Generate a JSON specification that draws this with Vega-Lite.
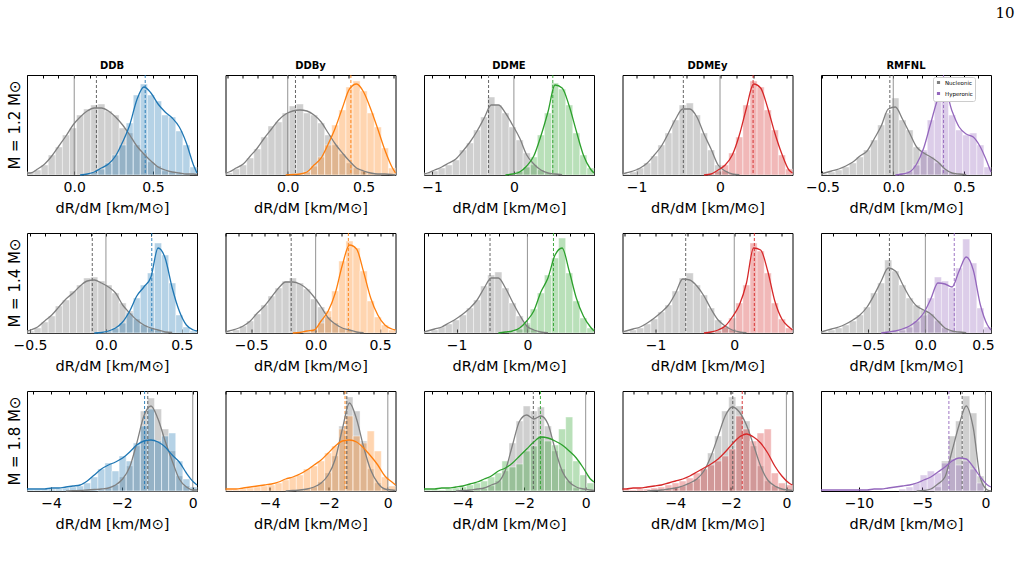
{
"$schema":"https://vega.github.io/schema/vega-lite/v6.json",
"padding":{"left":7,"top":6,"right":5,"bottom":5},
"background":"white",
"title":{"text":"10","anchor":"end","font":"DejaVu Serif","fontSize":15,"fontWeight":"normal","color":"black","offset":40,"dx":20},
"data":{"values":[
{"c":"DDB","r":"1.2","x":-0.3,"kn":2},
{"c":"DDB","r":"1.2","x":-0.2775,"n":3,"kn":2},
{"c":"DDB","r":"1.2","x":-0.2325,"n":5,"kn":6},
{"c":"DDB","r":"1.2","x":-0.1875,"n":10,"kn":11},
{"c":"DDB","r":"1.2","x":-0.1425,"n":20,"kn":19},
{"c":"DDB","r":"1.2","x":-0.0975,"n":28,"kn":29},
{"c":"DDB","r":"1.2","x":-0.0525,"n":40,"kn":39},
{"c":"DDB","r":"1.2","x":-0.0075,"n":47,"kn":50},
{"c":"DDB","r":"1.2","x":0.0375,"n":60,"kn":58,"kh":0},
{"c":"DDB","r":"1.2","x":0.0825,"n":66,"h":1,"kn":64,"kh":1},
{"c":"DDB","r":"1.2","x":0.1275,"n":70,"h":3,"kn":67,"kh":3},
{"c":"DDB","r":"1.2","x":0.1725,"n":71,"h":6,"kn":67,"kh":7},
{"c":"DDB","r":"1.2","x":0.2175,"n":64,"h":12,"kn":64,"kh":11},
{"c":"DDB","r":"1.2","x":0.2625,"n":60,"h":20,"kn":58,"kh":19},
{"c":"DDB","r":"1.2","x":0.3075,"n":47,"h":30,"kn":50,"kh":33},
{"c":"DDB","r":"1.2","x":0.3525,"n":42,"h":52,"kn":40,"kh":50},
{"c":"DDB","r":"1.2","x":0.3975,"n":30,"h":80,"kn":29,"kh":75},
{"c":"DDB","r":"1.2","x":0.4425,"n":22,"h":91,"kn":21,"kh":88},
{"c":"DDB","r":"1.2","x":0.4875,"n":13,"h":80,"kn":14,"kh":82},
{"c":"DDB","r":"1.2","x":0.5325,"n":9,"h":74,"kn":8,"kh":71},
{"c":"DDB","r":"1.2","x":0.5775,"n":4,"h":60,"kn":5,"kh":63},
{"c":"DDB","r":"1.2","x":0.6225,"n":3,"h":58,"kn":3,"kh":57},
{"c":"DDB","r":"1.2","x":0.6675,"n":2,"h":44,"kn":2,"kh":48},
{"c":"DDB","r":"1.2","x":0.7125,"n":1,"h":30,"kn":1,"kh":32},
{"c":"DDB","r":"1.2","x":0.7575,"h":8,"kn":1,"kh":10},
{"c":"DDB","r":"1.2","x":0.78,"kn":0.5,"kh":2},
{"c":"DDB","r":"1.2","mn":0.141,"mh":0.451},

{"c":"DDBy","r":"1.2","x":-0.41,"kn":2},
{"c":"DDBy","r":"1.2","x":-0.3867,"n":2,"kn":3},
{"c":"DDBy","r":"1.2","x":-0.34,"n":6,"kn":7},
{"c":"DDBy","r":"1.2","x":-0.2933,"n":10,"kn":11},
{"c":"DDBy","r":"1.2","x":-0.2467,"n":17,"kn":19},
{"c":"DDBy","r":"1.2","x":-0.2,"n":26,"kn":27},
{"c":"DDBy","r":"1.2","x":-0.1533,"n":38,"kn":37},
{"c":"DDBy","r":"1.2","x":-0.1067,"n":49,"kn":46},
{"c":"DDBy","r":"1.2","x":-0.06,"n":53,"kn":55},
{"c":"DDBy","r":"1.2","x":-0.0133,"n":62,"kn":61,"kh":0},
{"c":"DDBy","r":"1.2","x":0.0333,"n":69,"h":1,"kn":64,"kh":0.5},
{"c":"DDBy","r":"1.2","x":0.08,"n":71,"h":1,"kn":65,"kh":1},
{"c":"DDBy","r":"1.2","x":0.1267,"n":62,"h":3,"kn":64,"kh":3},
{"c":"DDBy","r":"1.2","x":0.1733,"n":60,"h":9,"kn":60,"kh":10},
{"c":"DDBy","r":"1.2","x":0.22,"n":52,"h":18,"kn":53,"kh":17},
{"c":"DDBy","r":"1.2","x":0.2667,"n":40,"h":30,"kn":42,"kh":31},
{"c":"DDBy","r":"1.2","x":0.3133,"n":30,"h":50,"kn":31,"kh":47},
{"c":"DDBy","r":"1.2","x":0.36,"n":21,"h":65,"kn":22,"kh":67},
{"c":"DDBy","r":"1.2","x":0.4067,"n":12,"h":88,"kn":14,"kh":86},
{"c":"DDBy","r":"1.2","x":0.4533,"n":7,"h":94,"kn":7,"kh":91},
{"c":"DDBy","r":"1.2","x":0.5,"n":4,"h":84,"kn":4,"kh":83},
{"c":"DDBy","r":"1.2","x":0.5467,"n":2,"h":62,"kn":2,"kh":66},
{"c":"DDBy","r":"1.2","x":0.5933,"n":1,"h":48,"kn":1,"kh":46},
{"c":"DDBy","r":"1.2","x":0.64,"h":27,"kn":1,"kh":25},
{"c":"DDBy","r":"1.2","x":0.6867,"h":7,"kn":0.5,"kh":8},
{"c":"DDBy","r":"1.2","x":0.71,"kn":0,"kh":2},
{"c":"DDBy","r":"1.2","mn":0.051,"mh":0.416},

{"c":"DDME","r":"1.2","x":-1.1,"kn":1},
{"c":"DDME","r":"1.2","x":-1.0567,"n":2,"kn":2},
{"c":"DDME","r":"1.2","x":-0.97,"n":4,"kn":5},
{"c":"DDME","r":"1.2","x":-0.8833,"n":7,"kn":8},
{"c":"DDME","r":"1.2","x":-0.7967,"n":10,"kn":12},
{"c":"DDME","r":"1.2","x":-0.71,"n":15,"kn":16},
{"c":"DDME","r":"1.2","x":-0.6233,"n":25,"kn":24},
{"c":"DDME","r":"1.2","x":-0.5367,"n":32,"kn":33},
{"c":"DDME","r":"1.2","x":-0.45,"n":45,"kn":44},
{"c":"DDME","r":"1.2","x":-0.3633,"n":58,"kn":57},
{"c":"DDME","r":"1.2","x":-0.2767,"n":78,"kn":70},
{"c":"DDME","r":"1.2","x":-0.19,"n":70,"kn":70},
{"c":"DDME","r":"1.2","x":-0.1033,"n":62,"kn":62,"kh":0},
{"c":"DDME","r":"1.2","x":-0.0167,"n":48,"h":1,"kn":50,"kh":1},
{"c":"DDME","r":"1.2","x":0.07,"n":35,"h":4,"kn":37,"kh":3},
{"c":"DDME","r":"1.2","x":0.1567,"n":22,"h":8,"kn":20,"kh":9},
{"c":"DDME","r":"1.2","x":0.2433,"n":10,"h":18,"kn":11,"kh":19},
{"c":"DDME","r":"1.2","x":0.33,"n":5,"h":40,"kn":5,"kh":39},
{"c":"DDME","r":"1.2","x":0.4167,"n":2,"h":62,"kn":2,"kh":63},
{"c":"DDME","r":"1.2","x":0.5033,"n":1,"h":92,"kn":1,"kh":90},
{"c":"DDME","r":"1.2","x":0.59,"h":86,"kn":0.3,"kh":87},
{"c":"DDME","r":"1.2","x":0.6767,"h":70,"kh":69},
{"c":"DDME","r":"1.2","x":0.7633,"h":42,"kh":44},
{"c":"DDME","r":"1.2","x":0.85,"h":20,"kh":20},
{"c":"DDME","r":"1.2","x":0.9367,"h":7,"kh":6},
{"c":"DDME","r":"1.2","x":0.98,"kh":2},
{"c":"DDME","r":"1.2","mn":-0.31,"mh":0.476},

{"c":"DDMEy","r":"1.2","x":-1.17,"kn":1},
{"c":"DDMEy","r":"1.2","x":-1.1275,"n":1,"kn":2},
{"c":"DDMEy","r":"1.2","x":-1.0425,"n":3,"kn":4},
{"c":"DDMEy","r":"1.2","x":-0.9575,"n":7,"kn":7},
{"c":"DDMEy","r":"1.2","x":-0.8725,"n":12,"kn":12},
{"c":"DDMEy","r":"1.2","x":-0.7875,"n":19,"kn":20},
{"c":"DDMEy","r":"1.2","x":-0.7025,"n":30,"kn":29},
{"c":"DDMEy","r":"1.2","x":-0.6175,"n":42,"kn":42},
{"c":"DDMEy","r":"1.2","x":-0.5325,"n":55,"kn":56},
{"c":"DDMEy","r":"1.2","x":-0.4475,"n":70,"kn":66},
{"c":"DDMEy","r":"1.2","x":-0.3625,"n":72,"kn":66},
{"c":"DDMEy","r":"1.2","x":-0.2775,"n":60,"kn":58},
{"c":"DDMEy","r":"1.2","x":-0.1925,"n":42,"kn":41,"kh":0},
{"c":"DDMEy","r":"1.2","x":-0.1075,"n":25,"h":1,"kn":26,"kh":1},
{"c":"DDMEy","r":"1.2","x":-0.0225,"n":10,"h":4,"kn":10,"kh":5},
{"c":"DDMEy","r":"1.2","x":0.0625,"n":4,"h":10,"kn":4,"kh":10},
{"c":"DDMEy","r":"1.2","x":0.1475,"n":1,"h":22,"kn":1,"kh":20},
{"c":"DDMEy","r":"1.2","x":0.2325,"h":38,"kn":0.3,"kh":40},
{"c":"DDMEy","r":"1.2","x":0.3175,"h":70,"kh":67},
{"c":"DDMEy","r":"1.2","x":0.4025,"h":94,"kh":91},
{"c":"DDMEy","r":"1.2","x":0.4875,"h":88,"kh":87},
{"c":"DDMEy","r":"1.2","x":0.5725,"h":65,"kh":67},
{"c":"DDMEy","r":"1.2","x":0.6575,"h":45,"kh":42},
{"c":"DDMEy","r":"1.2","x":0.7425,"h":20,"kh":21},
{"c":"DDMEy","r":"1.2","x":0.8275,"h":6,"kh":5},
{"c":"DDMEy","r":"1.2","x":0.87,"kh":2},
{"c":"DDMEy","r":"1.2","mn":-0.44,"mh":0.397},

{"c":"RMFNL","r":"1.2","x":-0.51,"kn":1},
{"c":"RMFNL","r":"1.2","x":-0.485,"n":1,"kn":2},
{"c":"RMFNL","r":"1.2","x":-0.435,"n":3,"kn":4},
{"c":"RMFNL","r":"1.2","x":-0.385,"n":5,"kn":6},
{"c":"RMFNL","r":"1.2","x":-0.335,"n":8,"kn":9},
{"c":"RMFNL","r":"1.2","x":-0.285,"n":12,"kn":13},
{"c":"RMFNL","r":"1.2","x":-0.235,"n":18,"kn":19},
{"c":"RMFNL","r":"1.2","x":-0.185,"n":25,"kn":24},
{"c":"RMFNL","r":"1.2","x":-0.135,"n":35,"kn":36},
{"c":"RMFNL","r":"1.2","x":-0.085,"n":50,"kn":49},
{"c":"RMFNL","r":"1.2","x":-0.035,"n":62,"kn":66},
{"c":"RMFNL","r":"1.2","x":0.015,"n":77,"kn":68,"kh":0},
{"c":"RMFNL","r":"1.2","x":0.065,"n":55,"h":2,"kn":56,"kh":1},
{"c":"RMFNL","r":"1.2","x":0.115,"n":45,"h":4,"kn":42,"kh":3},
{"c":"RMFNL","r":"1.2","x":0.165,"n":28,"h":10,"kn":28,"kh":11},
{"c":"RMFNL","r":"1.2","x":0.215,"n":23,"h":25,"kn":22,"kh":27},
{"c":"RMFNL","r":"1.2","x":0.265,"n":18,"h":55,"kn":18,"kh":52},
{"c":"RMFNL","r":"1.2","x":0.315,"n":12,"h":80,"kn":13,"kh":76},
{"c":"RMFNL","r":"1.2","x":0.365,"n":5,"h":88,"kn":6,"kh":85},
{"c":"RMFNL","r":"1.2","x":0.415,"n":2,"h":60,"kn":2,"kh":64},
{"c":"RMFNL","r":"1.2","x":0.465,"n":1,"h":45,"kn":1,"kh":48},
{"c":"RMFNL","r":"1.2","x":0.515,"h":40,"kn":0.3,"kh":41},
{"c":"RMFNL","r":"1.2","x":0.565,"h":42,"kh":38},
{"c":"RMFNL","r":"1.2","x":0.615,"h":30,"kh":28},
{"c":"RMFNL","r":"1.2","x":0.665,"h":8,"kh":12},
{"c":"RMFNL","r":"1.2","x":0.69,"kh":3},
{"c":"RMFNL","r":"1.2","mn":-0.024,"mh":0.355},

{"c":"DDB","r":"1.4","x":-0.52,"kn":2},
{"c":"DDB","r":"1.4","x":-0.4967,"n":2,"kn":3},
{"c":"DDB","r":"1.4","x":-0.45,"n":5,"kn":6},
{"c":"DDB","r":"1.4","x":-0.4033,"n":11,"kn":12},
{"c":"DDB","r":"1.4","x":-0.3567,"n":17,"kn":18},
{"c":"DDB","r":"1.4","x":-0.31,"n":27,"kn":26},
{"c":"DDB","r":"1.4","x":-0.2633,"n":33,"kn":34},
{"c":"DDB","r":"1.4","x":-0.2167,"n":42,"kn":40},
{"c":"DDB","r":"1.4","x":-0.17,"n":48,"kn":47},
{"c":"DDB","r":"1.4","x":-0.1233,"n":55,"kn":52},
{"c":"DDB","r":"1.4","x":-0.0767,"n":56,"kn":53,"kh":0},
{"c":"DDB","r":"1.4","x":-0.03,"n":52,"h":1,"kn":50,"kh":0.5},
{"c":"DDB","r":"1.4","x":0.0167,"n":48,"h":2,"kn":46,"kh":2},
{"c":"DDB","r":"1.4","x":0.0633,"n":40,"h":5,"kn":40,"kh":5},
{"c":"DDB","r":"1.4","x":0.11,"n":30,"h":10,"kn":28,"kh":11},
{"c":"DDB","r":"1.4","x":0.1567,"n":22,"h":20,"kn":20,"kh":22},
{"c":"DDB","r":"1.4","x":0.2033,"n":14,"h":35,"kn":13,"kh":37},
{"c":"DDB","r":"1.4","x":0.25,"n":8,"h":48,"kn":8,"kh":46},
{"c":"DDB","r":"1.4","x":0.2967,"n":5,"h":60,"kn":5,"kh":56},
{"c":"DDB","r":"1.4","x":0.3433,"n":3,"h":90,"kn":3,"kh":85},
{"c":"DDB","r":"1.4","x":0.39,"n":1,"h":78,"kn":1,"kh":75},
{"c":"DDB","r":"1.4","x":0.4367,"h":50,"kn":0.5,"kh":45},
{"c":"DDB","r":"1.4","x":0.4833,"h":18,"kh":22},
{"c":"DDB","r":"1.4","x":0.53,"h":6,"kh":8},
{"c":"DDB","r":"1.4","x":0.5767,"h":2,"kh":3},
{"c":"DDB","r":"1.4","x":0.6,"kh":2},
{"c":"DDB","r":"1.4","mn":-0.09,"mh":0.302},

{"c":"DDBy","r":"1.4","x":-0.7,"kn":1},
{"c":"DDBy","r":"1.4","x":-0.6725,"n":1,"kn":2},
{"c":"DDBy","r":"1.4","x":-0.6175,"n":3,"kn":4},
{"c":"DDBy","r":"1.4","x":-0.5625,"n":7,"kn":7},
{"c":"DDBy","r":"1.4","x":-0.5075,"n":12,"kn":12},
{"c":"DDBy","r":"1.4","x":-0.4525,"n":19,"kn":20},
{"c":"DDBy","r":"1.4","x":-0.3975,"n":28,"kn":27},
{"c":"DDBy","r":"1.4","x":-0.3425,"n":37,"kn":36},
{"c":"DDBy","r":"1.4","x":-0.2875,"n":45,"kn":45},
{"c":"DDBy","r":"1.4","x":-0.2325,"n":52,"kn":51},
{"c":"DDBy","r":"1.4","x":-0.1775,"n":55,"kn":51,"kh":0},
{"c":"DDBy","r":"1.4","x":-0.1225,"n":50,"kn":49,"kh":0.5},
{"c":"DDBy","r":"1.4","x":-0.0675,"n":44,"h":1,"kn":44,"kh":2},
{"c":"DDBy","r":"1.4","x":-0.0125,"n":34,"h":3,"kn":36,"kh":3},
{"c":"DDBy","r":"1.4","x":0.0425,"n":26,"h":10,"kn":26,"kh":12},
{"c":"DDBy","r":"1.4","x":0.0975,"n":16,"h":22,"kn":15,"kh":22},
{"c":"DDBy","r":"1.4","x":0.1525,"n":10,"h":42,"kn":9,"kh":40},
{"c":"DDBy","r":"1.4","x":0.2075,"n":5,"h":72,"kn":5,"kh":68},
{"c":"DDBy","r":"1.4","x":0.2625,"n":3,"h":92,"kn":3,"kh":88},
{"c":"DDBy","r":"1.4","x":0.3175,"n":1,"h":85,"kn":1,"kh":84},
{"c":"DDBy","r":"1.4","x":0.3725,"h":62,"kn":0.3,"kh":61},
{"c":"DDBy","r":"1.4","x":0.4275,"h":32,"kh":35},
{"c":"DDBy","r":"1.4","x":0.4825,"h":16,"kh":18},
{"c":"DDBy","r":"1.4","x":0.5375,"h":8,"kh":8},
{"c":"DDBy","r":"1.4","x":0.5925,"h":3,"kh":4},
{"c":"DDBy","r":"1.4","x":0.62,"kh":3},
{"c":"DDBy","r":"1.4","mn":-0.19,"mh":0.254},

{"c":"DDME","r":"1.4","x":-1.46,"kn":1},
{"c":"DDME","r":"1.4","x":-1.41,"n":1,"kn":2},
{"c":"DDME","r":"1.4","x":-1.31,"n":3,"kn":4},
{"c":"DDME","r":"1.4","x":-1.21,"n":6,"kn":6},
{"c":"DDME","r":"1.4","x":-1.11,"n":9,"kn":10},
{"c":"DDME","r":"1.4","x":-1.01,"n":13,"kn":14},
{"c":"DDME","r":"1.4","x":-0.91,"n":18,"kn":19},
{"c":"DDME","r":"1.4","x":-0.81,"n":25,"kn":25},
{"c":"DDME","r":"1.4","x":-0.71,"n":33,"kn":33},
{"c":"DDME","r":"1.4","x":-0.61,"n":47,"kn":45},
{"c":"DDME","r":"1.4","x":-0.51,"n":58,"kn":55},
{"c":"DDME","r":"1.4","x":-0.41,"n":61,"kn":55,"kh":0},
{"c":"DDME","r":"1.4","x":-0.31,"n":45,"kn":45,"kh":1},
{"c":"DDME","r":"1.4","x":-0.21,"n":30,"h":1,"kn":31,"kh":2},
{"c":"DDME","r":"1.4","x":-0.11,"n":17,"h":4,"kn":18,"kh":5},
{"c":"DDME","r":"1.4","x":-0.01,"n":8,"h":10,"kn":7,"kh":12},
{"c":"DDME","r":"1.4","x":0.09,"n":3,"h":24,"kn":3,"kh":22},
{"c":"DDME","r":"1.4","x":0.19,"n":1,"h":40,"kn":1,"kh":41},
{"c":"DDME","r":"1.4","x":0.29,"h":58,"kn":0.3,"kh":55},
{"c":"DDME","r":"1.4","x":0.39,"h":75,"kh":78},
{"c":"DDME","r":"1.4","x":0.49,"h":95,"kh":85},
{"c":"DDME","r":"1.4","x":0.59,"h":60,"kh":62},
{"c":"DDME","r":"1.4","x":0.69,"h":32,"kh":35},
{"c":"DDME","r":"1.4","x":0.79,"h":15,"kh":17},
{"c":"DDME","r":"1.4","x":0.89,"h":5,"kh":6},
{"c":"DDME","r":"1.4","x":0.94,"kh":2},
{"c":"DDME","r":"1.4","mn":-0.528,"mh":0.368},

{"c":"DDMEy","r":"1.4","x":-1.42,"kn":1},
{"c":"DDMEy","r":"1.4","x":-1.375,"n":1,"kn":2},
{"c":"DDMEy","r":"1.4","x":-1.285,"n":3,"kn":4},
{"c":"DDMEy","r":"1.4","x":-1.195,"n":5,"kn":6},
{"c":"DDMEy","r":"1.4","x":-1.105,"n":9,"kn":10},
{"c":"DDMEy","r":"1.4","x":-1.015,"n":14,"kn":15},
{"c":"DDMEy","r":"1.4","x":-0.925,"n":21,"kn":21},
{"c":"DDMEy","r":"1.4","x":-0.835,"n":28,"kn":28},
{"c":"DDMEy","r":"1.4","x":-0.745,"n":42,"kn":40},
{"c":"DDMEy","r":"1.4","x":-0.655,"n":55,"kn":54},
{"c":"DDMEy","r":"1.4","x":-0.565,"n":60,"kn":53},
{"c":"DDMEy","r":"1.4","x":-0.475,"n":48,"kn":47},
{"c":"DDMEy","r":"1.4","x":-0.385,"n":38,"kn":37,"kh":0},
{"c":"DDMEy","r":"1.4","x":-0.295,"n":25,"kn":24,"kh":1},
{"c":"DDMEy","r":"1.4","x":-0.205,"n":13,"h":2,"kn":13,"kh":3},
{"c":"DDMEy","r":"1.4","x":-0.115,"n":7,"h":6,"kn":7,"kh":7},
{"c":"DDMEy","r":"1.4","x":-0.025,"n":3,"h":15,"kn":3,"kh":16},
{"c":"DDMEy","r":"1.4","x":0.065,"n":1,"h":30,"kn":1,"kh":28},
{"c":"DDMEy","r":"1.4","x":0.155,"h":48,"kn":0.3,"kh":50},
{"c":"DDMEy","r":"1.4","x":0.245,"h":90,"kh":85},
{"c":"DDMEy","r":"1.4","x":0.335,"h":82,"kh":83},
{"c":"DDMEy","r":"1.4","x":0.425,"h":60,"kh":62},
{"c":"DDMEy","r":"1.4","x":0.515,"h":30,"kh":32},
{"c":"DDMEy","r":"1.4","x":0.605,"h":14,"kh":14},
{"c":"DDMEy","r":"1.4","x":0.695,"h":5,"kh":6},
{"c":"DDMEy","r":"1.4","x":0.74,"kh":3},
{"c":"DDMEy","r":"1.4","mn":-0.617,"mh":0.255},

{"c":"RMFNL","r":"1.4","x":-0.906,"kn":1},
{"c":"RMFNL","r":"1.4","x":-0.875,"n":1,"kn":2},
{"c":"RMFNL","r":"1.4","x":-0.814,"n":3,"kn":4},
{"c":"RMFNL","r":"1.4","x":-0.752,"n":5,"kn":6},
{"c":"RMFNL","r":"1.4","x":-0.691,"n":8,"kn":9},
{"c":"RMFNL","r":"1.4","x":-0.629,"n":12,"kn":13},
{"c":"RMFNL","r":"1.4","x":-0.568,"n":18,"kn":18},
{"c":"RMFNL","r":"1.4","x":-0.506,"n":26,"kn":26},
{"c":"RMFNL","r":"1.4","x":-0.445,"n":40,"kn":38},
{"c":"RMFNL","r":"1.4","x":-0.383,"n":50,"kn":52,"kh":0},
{"c":"RMFNL","r":"1.4","x":-0.322,"n":73,"kn":65,"kh":1},
{"c":"RMFNL","r":"1.4","x":-0.26,"n":62,"h":1,"kn":62,"kh":2},
{"c":"RMFNL","r":"1.4","x":-0.199,"n":48,"h":3,"kn":49,"kh":4},
{"c":"RMFNL","r":"1.4","x":-0.137,"n":35,"h":6,"kn":36,"kh":7},
{"c":"RMFNL","r":"1.4","x":-0.076,"n":28,"h":12,"kn":27,"kh":12},
{"c":"RMFNL","r":"1.4","x":-0.014,"n":23,"h":18,"kn":23,"kh":20},
{"c":"RMFNL","r":"1.4","x":0.047,"n":19,"h":35,"kn":19,"kh":34},
{"c":"RMFNL","r":"1.4","x":0.109,"n":12,"h":56,"kn":12,"kh":50},
{"c":"RMFNL","r":"1.4","x":0.17,"n":5,"h":52,"kn":5,"kh":49},
{"c":"RMFNL","r":"1.4","x":0.232,"n":2,"h":45,"kn":2,"kh":46},
{"c":"RMFNL","r":"1.4","x":0.293,"n":1,"h":65,"kn":1,"kh":62},
{"c":"RMFNL","r":"1.4","x":0.355,"h":94,"kn":0.3,"kh":76},
{"c":"RMFNL","r":"1.4","x":0.416,"h":70,"kh":63},
{"c":"RMFNL","r":"1.4","x":0.478,"h":25,"kh":28},
{"c":"RMFNL","r":"1.4","x":0.539,"h":6,"kh":8},
{"c":"RMFNL","r":"1.4","x":0.57,"kh":3},
{"c":"RMFNL","r":"1.4","mn":-0.312,"mh":0.251},

{"c":"DDB","r":"1.8","x":-4.68,"kh":2},
{"c":"DDB","r":"1.8","x":-4.58,"h":1,"kh":2},
{"c":"DDB","r":"1.8","x":-4.38,"h":1,"kh":2},
{"c":"DDB","r":"1.8","x":-4.18,"h":1,"kh":2},
{"c":"DDB","r":"1.8","x":-3.98,"h":2,"kh":3},
{"c":"DDB","r":"1.8","x":-3.78,"h":2,"kh":3},
{"c":"DDB","r":"1.8","x":-3.58,"h":3,"kh":4,"kn":0},
{"c":"DDB","r":"1.8","x":-3.38,"h":4,"kh":5,"kn":0.3},
{"c":"DDB","r":"1.8","x":-3.18,"h":5,"kh":6,"kn":0.5},
{"c":"DDB","r":"1.8","x":-2.98,"h":8,"kh":10,"kn":1},
{"c":"DDB","r":"1.8","x":-2.78,"h":14,"kh":16,"kn":1.5},
{"c":"DDB","r":"1.8","x":-2.58,"n":1,"h":22,"kn":2,"kh":22},
{"c":"DDB","r":"1.8","x":-2.38,"n":3,"h":28,"kn":3,"kh":26},
{"c":"DDB","r":"1.8","x":-2.18,"n":6,"h":20,"kn":6,"kh":29},
{"c":"DDB","r":"1.8","x":-1.98,"n":14,"h":35,"kn":12,"kh":33},
{"c":"DDB","r":"1.8","x":-1.78,"n":25,"h":30,"kn":24,"kh":39},
{"c":"DDB","r":"1.8","x":-1.58,"n":45,"h":48,"kn":48,"kh":46},
{"c":"DDB","r":"1.8","x":-1.38,"n":80,"h":65,"kn":75,"kh":50},
{"c":"DDB","r":"1.8","x":-1.18,"n":93,"h":82,"kn":85,"kh":51},
{"c":"DDB","r":"1.8","x":-0.98,"n":82,"h":50,"kn":72,"kh":49},
{"c":"DDB","r":"1.8","x":-0.78,"n":62,"h":55,"kn":50,"kh":44},
{"c":"DDB","r":"1.8","x":-0.58,"n":40,"h":58,"kn":30,"kh":36},
{"c":"DDB","r":"1.8","x":-0.38,"n":15,"h":30,"kn":12,"kh":29},
{"c":"DDB","r":"1.8","x":-0.18,"n":5,"h":12,"kn":4,"kh":18},
{"c":"DDB","r":"1.8","x":0.02,"n":1,"h":4,"kn":1,"kh":9},
{"c":"DDB","r":"1.8","x":0.12,"kn":1,"kh":6},
{"c":"DDB","r":"1.8","mn":-1.27,"mh":-1.36},

{"c":"DDBy","r":"1.8","x":-5.5,"kh":2},
{"c":"DDBy","r":"1.8","x":-5.38,"h":1,"kh":2},
{"c":"DDBy","r":"1.8","x":-5.14,"h":1,"kh":2},
{"c":"DDBy","r":"1.8","x":-4.9,"h":2,"kh":3},
{"c":"DDBy","r":"1.8","x":-4.66,"h":3,"kh":4},
{"c":"DDBy","r":"1.8","x":-4.42,"h":4,"kh":5},
{"c":"DDBy","r":"1.8","x":-4.18,"h":5,"kh":6},
{"c":"DDBy","r":"1.8","x":-3.94,"h":6,"kh":7},
{"c":"DDBy","r":"1.8","x":-3.7,"h":8,"kh":9},
{"c":"DDBy","r":"1.8","x":-3.46,"h":11,"kh":12,"kn":0},
{"c":"DDBy","r":"1.8","x":-3.22,"h":14,"kh":14,"kn":0.5},
{"c":"DDBy","r":"1.8","x":-2.98,"n":1,"h":16,"kn":1,"kh":17},
{"c":"DDBy","r":"1.8","x":-2.74,"n":2,"h":22,"kn":2,"kh":21},
{"c":"DDBy","r":"1.8","x":-2.5,"n":4,"h":25,"kn":4,"kh":26},
{"c":"DDBy","r":"1.8","x":-2.26,"n":9,"h":30,"kn":8,"kh":31},
{"c":"DDBy","r":"1.8","x":-2.02,"n":18,"h":38,"kn":16,"kh":38},
{"c":"DDBy","r":"1.8","x":-1.78,"n":35,"h":45,"kn":32,"kh":45},
{"c":"DDBy","r":"1.8","x":-1.54,"n":65,"h":62,"kn":62,"kh":50},
{"c":"DDBy","r":"1.8","x":-1.3,"n":94,"h":75,"kn":88,"kh":51},
{"c":"DDBy","r":"1.8","x":-1.06,"n":80,"h":55,"kn":72,"kh":49},
{"c":"DDBy","r":"1.8","x":-0.82,"n":50,"h":48,"kn":44,"kh":43},
{"c":"DDBy","r":"1.8","x":-0.58,"n":22,"h":60,"kn":21,"kh":35},
{"c":"DDBy","r":"1.8","x":-0.34,"n":8,"h":40,"kn":8,"kh":26},
{"c":"DDBy","r":"1.8","x":-0.1,"n":2,"h":14,"kn":2,"kh":15},
{"c":"DDBy","r":"1.8","x":0.14,"h":5,"kn":1,"kh":9},
{"c":"DDBy","r":"1.8","x":0.26,"kn":0.5,"kh":6},
{"c":"DDBy","r":"1.8","mn":-1.39,"mh":-1.45},

{"c":"DDME","r":"1.8","x":-5.25,"kh":2},
{"c":"DDME","r":"1.8","x":-5.135,"h":1,"kh":2},
{"c":"DDME","r":"1.8","x":-4.905,"h":1,"kh":2},
{"c":"DDME","r":"1.8","x":-4.675,"h":1,"kh":3},
{"c":"DDME","r":"1.8","x":-4.445,"h":2,"kh":3},
{"c":"DDME","r":"1.8","x":-4.215,"h":3,"kh":4,"kn":0},
{"c":"DDME","r":"1.8","x":-3.985,"h":4,"kh":5,"kn":0.5},
{"c":"DDME","r":"1.8","x":-3.755,"h":6,"kh":7,"kn":1},
{"c":"DDME","r":"1.8","x":-3.525,"n":1,"h":8,"kn":2,"kh":9},
{"c":"DDME","r":"1.8","x":-3.295,"n":2,"h":10,"kn":3,"kh":12},
{"c":"DDME","r":"1.8","x":-3.065,"n":5,"h":14,"kn":6,"kh":15},
{"c":"DDME","r":"1.8","x":-2.835,"n":10,"h":18,"kn":9,"kh":20},
{"c":"DDME","r":"1.8","x":-2.605,"n":20,"h":30,"kn":21,"kh":23},
{"c":"DDME","r":"1.8","x":-2.375,"n":48,"h":24,"kn":46,"kh":28},
{"c":"DDME","r":"1.8","x":-2.145,"n":70,"h":27,"kn":70,"kh":35},
{"c":"DDME","r":"1.8","x":-1.915,"n":85,"h":40,"kn":76,"kh":42},
{"c":"DDME","r":"1.8","x":-1.685,"n":80,"h":45,"kn":72,"kh":49},
{"c":"DDME","r":"1.8","x":-1.455,"n":84,"h":55,"kn":75,"kh":54},
{"c":"DDME","r":"1.8","x":-1.225,"n":65,"h":50,"kn":67,"kh":53},
{"c":"DDME","r":"1.8","x":-0.995,"n":40,"h":46,"kn":42,"kh":50},
{"c":"DDME","r":"1.8","x":-0.765,"n":22,"h":62,"kn":20,"kh":46},
{"c":"DDME","r":"1.8","x":-0.535,"n":10,"h":74,"kn":9,"kh":40},
{"c":"DDME","r":"1.8","x":-0.305,"n":3,"h":30,"kn":4,"kh":33},
{"c":"DDME","r":"1.8","x":-0.075,"n":1,"h":16,"kn":2,"kh":23},
{"c":"DDME","r":"1.8","x":0.155,"h":8,"kn":1,"kh":12},
{"c":"DDME","r":"1.8","x":0.27,"kn":0.5,"kh":9},
{"c":"DDME","r":"1.8","mn":-1.7,"mh":-1.47},

{"c":"DDMEy","r":"1.8","x":-5.9,"kh":2},
{"c":"DDMEy","r":"1.8","x":-5.773,"h":1,"kh":2},
{"c":"DDMEy","r":"1.8","x":-5.518,"h":1,"kh":3},
{"c":"DDMEy","r":"1.8","x":-5.263,"h":2,"kh":3},
{"c":"DDMEy","r":"1.8","x":-5.008,"h":2,"kh":4,"kn":0},
{"c":"DDMEy","r":"1.8","x":-4.753,"h":3,"kh":5,"kn":0.5},
{"c":"DDMEy","r":"1.8","x":-4.498,"n":1,"h":4,"kn":1,"kh":6},
{"c":"DDMEy","r":"1.8","x":-4.243,"n":2,"h":6,"kn":2,"kh":8},
{"c":"DDMEy","r":"1.8","x":-3.988,"n":3,"h":8,"kn":3,"kh":10},
{"c":"DDMEy","r":"1.8","x":-3.733,"n":5,"h":10,"kn":5,"kh":12},
{"c":"DDMEy","r":"1.8","x":-3.478,"n":8,"h":13,"kn":8,"kh":15},
{"c":"DDMEy","r":"1.8","x":-3.223,"n":12,"h":18,"kn":12,"kh":19},
{"c":"DDMEy","r":"1.8","x":-2.968,"n":22,"h":22,"kn":20,"kh":23},
{"c":"DDMEy","r":"1.8","x":-2.713,"n":38,"h":26,"kn":35,"kh":27},
{"c":"DDMEy","r":"1.8","x":-2.458,"n":55,"h":30,"kn":55,"kh":32},
{"c":"DDMEy","r":"1.8","x":-2.203,"n":80,"h":35,"kn":75,"kh":39},
{"c":"DDMEy","r":"1.8","x":-1.948,"n":94,"h":42,"kn":84,"kh":47},
{"c":"DDMEy","r":"1.8","x":-1.693,"n":85,"h":75,"kn":79,"kh":54},
{"c":"DDMEy","r":"1.8","x":-1.438,"n":70,"h":62,"kn":66,"kh":57},
{"c":"DDMEy","r":"1.8","x":-1.183,"n":45,"h":50,"kn":46,"kh":54},
{"c":"DDMEy","r":"1.8","x":-0.928,"n":25,"h":58,"kn":25,"kh":48},
{"c":"DDMEy","r":"1.8","x":-0.673,"n":10,"h":62,"kn":11,"kh":38},
{"c":"DDMEy","r":"1.8","x":-0.418,"n":5,"h":18,"kn":5,"kh":25},
{"c":"DDMEy","r":"1.8","x":-0.163,"n":2,"h":8,"kn":2,"kh":15},
{"c":"DDMEy","r":"1.8","x":0.093,"h":6,"kn":1,"kh":8},
{"c":"DDMEy","r":"1.8","x":0.22,"kn":0.5,"kh":6},
{"c":"DDMEy","r":"1.8","mn":-1.93,"mh":-1.59},

{"c":"RMFNL","r":"1.8","x":-13,"kh":1},
{"c":"RMFNL","r":"1.8","x":-12.72,"kh":1},
{"c":"RMFNL","r":"1.8","x":-12.16,"kh":1},
{"c":"RMFNL","r":"1.8","x":-11.6,"kh":1},
{"c":"RMFNL","r":"1.8","x":-11.04,"kh":1},
{"c":"RMFNL","r":"1.8","x":-10.48,"kh":1},
{"c":"RMFNL","r":"1.8","x":-9.92,"kh":1},
{"c":"RMFNL","r":"1.8","x":-9.36,"kh":1},
{"c":"RMFNL","r":"1.8","x":-8.8,"kh":2},
{"c":"RMFNL","r":"1.8","x":-8.24,"kh":2},
{"c":"RMFNL","r":"1.8","x":-7.68,"kh":3},
{"c":"RMFNL","r":"1.8","x":-7.12,"kh":4},
{"c":"RMFNL","r":"1.8","x":-6.56,"h":2,"kh":5},
{"c":"RMFNL","r":"1.8","x":-6,"h":4,"kh":6},
{"c":"RMFNL","r":"1.8","x":-5.44,"h":8,"kh":8,"kn":0},
{"c":"RMFNL","r":"1.8","x":-4.88,"h":16,"kh":11,"kn":0.5},
{"c":"RMFNL","r":"1.8","x":-4.32,"h":20,"kh":14,"kn":2},
{"c":"RMFNL","r":"1.8","x":-3.76,"n":4,"h":18,"kn":7,"kh":19},
{"c":"RMFNL","r":"1.8","x":-3.2,"n":30,"h":28,"kn":14,"kh":24},
{"c":"RMFNL","r":"1.8","x":-2.64,"n":55,"h":32,"kn":40,"kh":30},
{"c":"RMFNL","r":"1.8","x":-2.08,"n":70,"h":26,"kn":66,"kh":33},
{"c":"RMFNL","r":"1.8","x":-1.52,"n":95,"h":30,"kn":85,"kh":32},
{"c":"RMFNL","r":"1.8","x":-0.96,"n":78,"h":22,"kn":63,"kh":24},
{"c":"RMFNL","r":"1.8","x":-0.4,"n":15,"h":8,"kn":13,"kh":14},
{"c":"RMFNL","r":"1.8","x":0.16,"n":1,"kn":1,"kh":6},
{"c":"RMFNL","r":"1.8","x":0.44,"kn":0,"kh":4},
{"c":"RMFNL","r":"1.8","mn":-1.84,"mh":-2.89}
]},
"facet":{
 "row":{"field":"r","type":"nominal","title":null,"header":{"labelAngle":-90,"labelOrient":"left","labelFontSize":15,"labelPadding":-3,"labelColor":"black","labelExpr":"'M = ' + datum.value + ' M⊙'"}},
 "column":{"field":"c","type":"nominal","title":null,"sort":["DDB","DDBy","DDME","DDMEy","RMFNL"],"header":{"labelFontSize":10,"labelFontWeight":"bold","labelPadding":4,"labelColor":"black"}}
},
"spacing":{"row":58,"column":28.5},
"bounds":"flush",
"resolve":{"scale":{"x":"independent"},"axis":{"x":"independent"}},
"spec":{
 "width":170,"height":100,
 "resolve":{"axis":{"x":"independent"}},
 "layer":[
  {"transform":[{"filter":"datum.n > 0"}],
   "mark":{"type":"bar","orient":"vertical","width":7.08,"fillOpacity":0.38,"stroke":"white","strokeWidth":0.5,"strokeOpacity":0.9},
   "encoding":{
    "x":{"field":"x","type":"quantitative","scale":{"zero":false,"nice":false,"padding":0},"axis":{"orient":"bottom","title":"dR/dM [km/M⊙]","tickCount":2.5,"tickSize":-4,"labelFontSize":14,"titleFontSize":14.5,"labelPadding":9,"titlePadding":7,"grid":false,"domain":false,"labelFlush":false}},
    "y":{"field":"n","type":"quantitative","scale":{"domain":[0,100],"nice":false},"axis":null},
    "color":{"datum":"N","type":"nominal","title":null,"scale":{"domain":["N","DDB","DDBy","DDME","DDMEy","RMFNL"],"range":["#808080","#1f77b4","#ff7f0e","#2ca02c","#d62728","#9467bd"]},
     "legend":{"values":["N","RMFNL"],"labelExpr":"datum.value == 'N' ? 'Nucleonic' : 'Hyperonic'","title":null,"orient":"none","legendX":906,"legendY":2,"symbolType":"square","symbolSize":22,"labelFontSize":5.5,"fillColor":"white","strokeColor":"#cccccc","padding":2,"cornerRadius":2,"rowPadding":0,"labelOffset":3}}
   }},
  {"transform":[{"filter":"datum.h > 0"}],
   "mark":{"type":"bar","orient":"vertical","width":7.08,"fillOpacity":0.33,"stroke":"white","strokeWidth":0.5,"strokeOpacity":0.9},
   "encoding":{
    "x":{"field":"x","type":"quantitative","axis":null},
    "y":{"field":"h","type":"quantitative","axis":null},
    "color":{"field":"c","type":"nominal","title":null}
   }},
  {"transform":[{"filter":"isValid(datum.mn)"}],
   "mark":{"type":"rule","color":"#808080","strokeWidth":1,"opacity":0.85},
   "encoding":{"x":{"datum":0,"type":"quantitative","axis":null}}},
  {"transform":[{"filter":"isValid(datum.mn)"}],
   "mark":{"type":"rule","color":"#555555","strokeWidth":0.9,"strokeDash":[3,2]},
   "encoding":{"x":{"field":"mn","type":"quantitative","axis":null}}},
  {"transform":[{"filter":"isValid(datum.mh)"}],
   "mark":{"type":"rule","strokeWidth":0.9,"strokeDash":[3,2]},
   "encoding":{"x":{"field":"mh","type":"quantitative","axis":null},
    "stroke":{"field":"c","type":"nominal","scale":{"domain":["DDB","DDBy","DDME","DDMEy","RMFNL"],"range":["#1f77b4","#ff7f0e","#2ca02c","#d62728","#9467bd"]},"legend":null}}},
  {"transform":[{"filter":"isValid(datum.kn)"}],
   "mark":{"type":"line","color":"#808080","strokeWidth":1.3,"interpolate":"monotone"},
   "encoding":{"x":{"field":"x","type":"quantitative","axis":null},"y":{"field":"kn","type":"quantitative","axis":null}}},
  {"transform":[{"filter":"isValid(datum.kh)"}],
   "mark":{"type":"line","strokeWidth":1.3,"interpolate":"monotone"},
   "encoding":{"x":{"field":"x","type":"quantitative","axis":null},"y":{"field":"kh","type":"quantitative","axis":null},
    "stroke":{"field":"c","type":"nominal","legend":null}}},
  {"transform":[{"filter":"isValid(datum.mn)"}],
   "mark":{"type":"rule","opacity":0},
   "encoding":{"x":{"field":"mn","type":"quantitative","axis":{"orient":"top","labels":false,"title":null,"tickSize":-3,"tickCount":10,"domain":false,"grid":false}}}}
 ]
},
"config":{
 "font":"DejaVu Sans",
 "view":{"stroke":"black","strokeWidth":1},
 "axis":{"labelColor":"black","titleColor":"black","tickColor":"black","titleFontWeight":"normal","labelFont":"DejaVu Sans","titleFont":"DejaVu Sans"},
 "header":{"labelFont":"DejaVu Sans"},
 "legend":{"labelFont":"DejaVu Sans"}
}
}
